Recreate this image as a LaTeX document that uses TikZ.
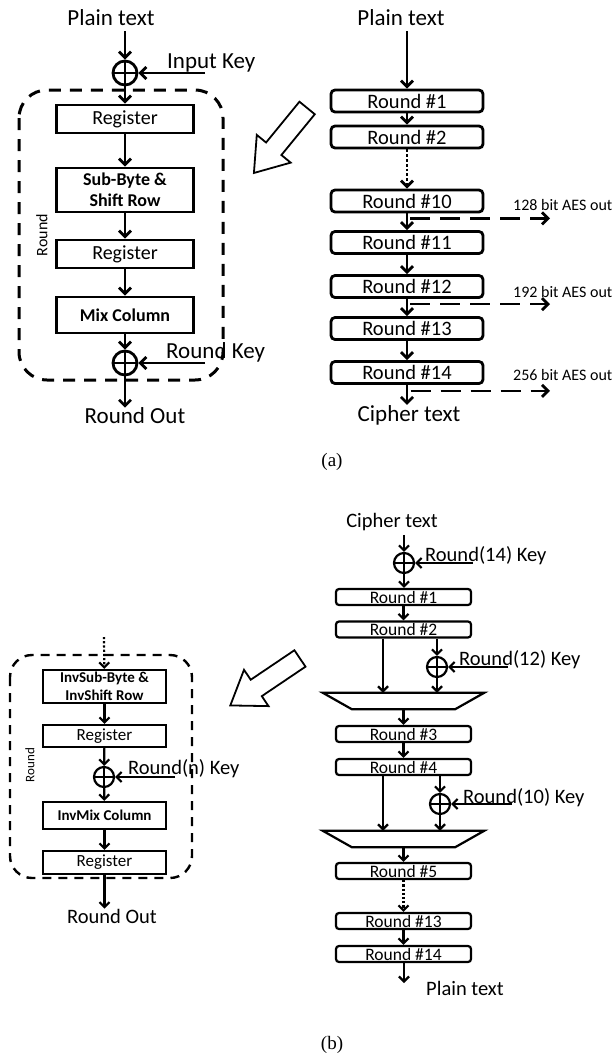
\documentclass[tikz,border=0pt]{standalone}
\usepackage{fontspec}
\setmainfont{Carlito}
\newfontfamily\capfont{Liberation Serif}
\usetikzlibrary{arrows.meta,shapes.arrows,calc}

\begin{document}
\begin{tikzpicture}[x=1pt,y=-1pt,
	lbl/.style={inner sep=0pt,font=\fontsize{23}{25}\selectfont},
	lblb/.style={inner sep=0pt,font=\fontsize{20.5}{22}\selectfont},
	aes/.style={inner sep=0pt,anchor=base west,font=\fontsize{16}{17}\selectfont},
	blk/.style={draw,line width=2.8pt,minimum width=137pt,inner sep=0pt,align=center,font=\fontsize{20}{22}\selectfont},
	blkb/.style={draw,line width=2.2pt,minimum width=123pt,inner sep=0pt,align=center,font=\fontsize{17}{17}\selectfont},
	rnd/.style={draw,line width=2.8pt,rounded corners=4pt,minimum width=152pt,minimum height=22pt,inner sep=0pt,font=\fontsize{20.5}{22}\selectfont},
	rndb/.style={draw,line width=2.2pt,rounded corners=3pt,minimum width=135pt,minimum height=16pt,inner sep=0pt,font=\fontsize{17.5}{17.5}\selectfont},
	xor/.style={circle,draw,line width=2.8pt,minimum size=24pt,inner sep=0pt,
		path picture={\draw[line width=2.6pt] (path picture bounding box.north) -- (path picture bounding box.south)
			(path picture bounding box.west) -- (path picture bounding box.east);}},
	xorb/.style={xor,line width=2.2pt,minimum size=20pt},
	mux/.style={minimum width=161pt,minimum height=16pt,inner sep=0pt},
	arra/.style={line width=2.8pt,-{Straight Barb[length=6pt,width=12pt]}},
	arrb/.style={line width=2.2pt,-{Straight Barb[length=5pt,width=10pt]}},
	outdash/.style={arra,dash pattern=on 20pt off 10pt},
	frame/.style={line width=3pt,dash pattern=on 12pt off 9pt,rounded corners=28pt},
	frameb/.style={line width=2.4pt,dash pattern=on 9pt off 7pt,rounded corners=22pt},
	bigarrow/.style={single arrow,draw,line width=1.8pt,inner sep=9pt,minimum height=84pt,
		single arrow head extend=12pt,single arrow tip angle=70}]

	\useasboundingbox (0,0) rectangle (613,1055);

	% (a) one encryption round
	\node[lbl] (ptl) at (111,18) {Plain text};
	\node[xor] (xin) at (125,73) {};
	\node[lbl,anchor=base west] (ikey) at (167,68) {Input Key};
	\coordinate (ik) at (205,73);
	\node[blk,minimum height=28pt] (reg1) at (125,119) {Register};
	\node[blk,minimum height=44pt,font=\bfseries\fontsize{18}{21}\selectfont] (sub) at (125,190) {Sub-Byte \&\\Shift Row};
	\node[blk,minimum height=28pt] (reg2) at (125,254) {Register};
	\node[blk,minimum height=36pt,font=\bfseries\fontsize{18}{21}\selectfont] (mix) at (125,315) {Mix Column};
	\node[xor] (xrk) at (125,363) {};
	\node[lbl,anchor=base west] (rkey) at (166,358) {Round Key};
	\coordinate (rk) at (205,363);
	\node[lbl] (rout) at (135,416) {Round Out};
	\node[rotate=90,inner sep=0pt,font=\fontsize{16}{16}\selectfont] (rlbl) at (42,235) {Round};
	\draw[frame] (19,90) rectangle (223,380);

	\draw[arra,shorten <=5pt] (ptl.south -| xin) -- (xin);
	\draw[arra] (ik) -- (xin);
	\draw[arra] (xin) -- (reg1);
	\draw[arra] (reg1) -- (sub);
	\draw[arra] (sub) -- (reg2);
	\draw[arra] (reg2) -- (mix);
	\draw[arra] (mix) -- (xrk);
	\draw[arra] (rk) -- (xrk);
	\draw[arra] (xrk) -- (xrk |- rout.north);

	\node[bigarrow,rotate=230.7] (pa) at (285,135) {};

	% (a) full round chain
	\node[lbl] (ptr) at (401,18) {Plain text};
	\node[rnd] (r1) at (407,101) {Round \#1};
	\node[rnd] (r2) at (407,137) {Round \#2};
	\node[rnd] (r10) at (407,201) {Round \#10};
	\node[rnd] (r11) at (407,242.5) {Round \#11};
	\node[rnd] (r12) at (407,286.5) {Round \#12};
	\node[rnd] (r13) at (407,328.5) {Round \#13};
	\node[rnd] (r14) at (407,372.5) {Round \#14};
	\node[lbl] (cta) at (409,415) {Cipher text};

	\draw[arra,shorten <=5pt] (ptr.south -| r1) -- (r1);
	\draw[arra] (r1) -- (r2);
	\draw[arra,dotted] (r2) -- (r10);
	\draw[arra] (r10) -- (r11);
	\draw[arra] (r11) -- (r12);
	\draw[arra] (r12) -- (r13);
	\draw[arra] (r13) -- (r14);
	\draw[arra] (r14) -- (r14 |- cta.north);

	\coordinate (o128) at ($(r10.south)!0.3!(r11.north)+(3,0)$);
	\coordinate (o192) at ($(r12.south)!0.3!(r13.north)+(3,0)$);
	\coordinate (o256) at ($(r14.south)!0.3!(cta.north)+(3,0)$);
	\coordinate (e128) at (550,218);
	\coordinate (e192) at (550,304);
	\coordinate (e256) at (550,389);
	\draw[outdash] (o128) -- (e128 |- o128);
	\draw[outdash] (o192) -- (e192 |- o192);
	\draw[outdash] (o256) -- (e256 |- o256);
	\node[aes] (l128) at (513,210) {128 bit AES out};
	\node[aes] (l192) at (513,297) {192 bit AES out};
	\node[aes] (l256) at (513,380) {256 bit AES out};

	\node[font=\capfont\fontsize{19}{21}\selectfont] (capa) at (332,462) {(a)};

	% (b) one decryption round
	\coordinate (dt) at (104,637);
	\node[blkb,minimum height=33pt,font=\bfseries\fontsize{15}{18}\selectfont] (isub) at (104.5,686.5) {InvSub-Byte \&\\InvShift Row};
	\node[blkb,minimum height=22pt] (ireg1) at (104.5,736) {Register};
	\node[xorb] (xn) at (104,777) {};
	\node[lblb,anchor=base west] (nkey) at (128,774) {Round(n) Key};
	\coordinate (nk) at (175,777);
	\node[blkb,minimum height=27pt,font=\bfseries\fontsize{15}{18}\selectfont] (imix) at (104.5,815.5) {InvMix Column};
	\node[blkb,minimum height=23pt] (ireg2) at (104.5,862.5) {Register};
	\node[lblb] (routb) at (112,916) {Round Out};
	\node[rotate=90,inner sep=0pt,font=\fontsize{13}{13}\selectfont] (rlblb) at (30,765) {Round};
	\draw[frameb] (10,655) rectangle (192,878);

	\draw[arrb,dotted] (dt) -- (isub);
	\draw[arrb] (isub) -- (ireg1);
	\draw[arrb] (ireg1) -- (xn);
	\draw[arrb] (nk) -- (xn);
	\draw[arrb] (xn) -- (imix);
	\draw[arrb] (imix) -- (ireg2);
	\draw[arrb] (ireg2) -- (ireg2.south |- routb.north);

	\node[bigarrow,rotate=214] (pb) at (271,678) {};

	% (b) decryption chain with key insertion
	\node[lblb] (ctb) at (392,522) {Cipher text};
	\node[xorb] (xc) at (404,563) {};
	\node[lblb,anchor=base west] (k14) at (425,561) {Round(14) Key};
	\coordinate (c14) at (473,563);
	\node[rndb] (b1) at (403.5,597) {Round \#1};
	\node[rndb] (b2) at (403.5,629.5) {Round \#2};
	\node[xorb] (x12) at (437,667) {};
	\node[lblb,anchor=base west] (k12) at (459,665) {Round(12) Key};
	\coordinate (c12) at (508,667);
	\node[mux] (m1) at (403.5,701) {};
	\node[rndb] (b3) at (403.5,734) {Round \#3};
	\node[rndb] (b4) at (403.5,767) {Round \#4};
	\node[xorb] (x10) at (440,804) {};
	\node[lblb,anchor=base west] (k10) at (463,803) {Round(10) Key};
	\coordinate (c10) at (512,804);
	\node[mux] (m2) at (403.5,839) {};
	\node[rndb] (b5) at (403.5,871) {Round \#5};
	\node[rndb] (b13) at (403.5,921) {Round \#13};
	\node[rndb] (b14) at (403.5,954) {Round \#14};
	\node[lblb] (ptb) at (465,988) {Plain text};
	\coordinate (pend) at (404,983);

	% the two multiplexers
	\foreach \m in {m1,m2}
		\draw[line width=2.2pt] (\m.north west) -- (\m.north east) -- ([xshift=-29pt]\m.south east)
			-- ([xshift=29pt]\m.south west) -- cycle;

	\draw[arrb,shorten <=4pt] (ctb.south -| xc) -- (xc);
	\draw[arrb] (c14) -- (xc);
	\draw[arrb] (xc) -- (xc |- b1.north);
	\draw[arrb] (b1) -- (b2);
	\draw[arrb] ([xshift=-20.5pt]b2.south) -- ([xshift=-20.5pt]b2.south |- m1.north);
	\draw[arrb] (x12 |- b2.south) -- (x12);
	\draw[arrb] (c12) -- (x12);
	\draw[arrb] (x12) -- (x12 |- m1.north);
	\draw[arrb] (m1) -- (b3);
	\draw[arrb] (b3) -- (b4);
	\draw[arrb] ([xshift=-20.5pt]b4.south) -- ([xshift=-20.5pt]b4.south |- m2.north);
	\draw[arrb] (x10 |- b4.south) -- (x10);
	\draw[arrb] (c10) -- (x10);
	\draw[arrb] (x10) -- (x10 |- m2.north);
	\draw[arrb] (m2) -- (b5);
	\draw[arrb,dotted] (b5) -- (b13);
	\draw[arrb] (b13) -- (b14);
	\draw[arrb] (b14.south -| pend) -- (pend);

	\node[font=\capfont\fontsize{19}{21}\selectfont] (capb) at (332,1045) {(b)};
\end{tikzpicture}
\end{document}
